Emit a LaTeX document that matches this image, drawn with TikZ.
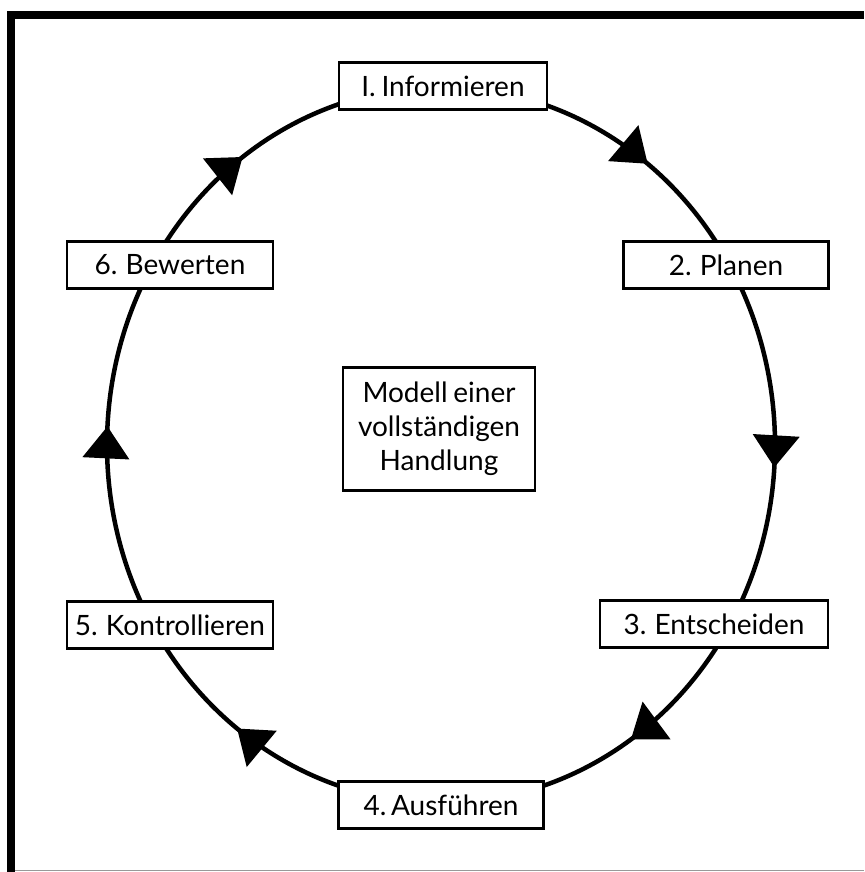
\documentclass[tikz,border=0pt]{standalone}
\usepackage{fontspec}
\setmainfont{Lato}[WordSpace=0.8]
\usetikzlibrary{arrows.meta,decorations.markings}

\begin{document}
\begin{tikzpicture}[x=1pt,y=1pt,
  stepbox/.style={draw=black,line width=2.4pt,fill=white,minimum height=47pt,
    inner sep=0pt,font=\fontsize{28}{34}\selectfont},
  loop/.style={line width=4.5pt},
  tipat/.style={decoration={markings,
      mark=at position #1 with {\arrow{Triangle[length=32pt,width=46pt]}}},
    postaction=decorate}
]
\useasboundingbox (0,0) rectangle (864,872);

% frame
\draw[line width=8pt] (11,0) -- (11,857) -- (864,857);
\draw[line width=1.5pt,black!40] (15,1.5) -- (864,1.5);

% points on the cycle
\coordinate (C) at (441,427);
\path (C) ++(90:334 and 358) coordinate (p1);
\path (C) ++(30:334 and 358) coordinate (p2);
\path (C) ++(-30:334 and 358) coordinate (p3);
\path (C) ++(-90:334 and 358) coordinate (p4);
\path (C) ++(-150:334 and 358) coordinate (p5);
\path (C) ++(150:334 and 358) coordinate (p6);

% cycle segments with direction arrows
\draw[loop,tipat=0.63] (p1) arc[start angle=90,end angle=30,x radius=334pt,y radius=358pt];
\draw[loop,tipat=0.56] (p2) arc[start angle=30,end angle=-30,x radius=334pt,y radius=358pt];
\draw[loop,tipat=0.43] (p3) arc[start angle=-30,end angle=-90,x radius=334pt,y radius=358pt];
\draw[loop,tipat=0.62] (p4) arc[start angle=-90,end angle=-150,x radius=334pt,y radius=358pt];
\draw[loop,tipat=0.55] (p5) arc[start angle=-150,end angle=-210,x radius=334pt,y radius=358pt];
\draw[loop,tipat=0.40] (p6) arc[start angle=150,end angle=90,x radius=334pt,y radius=358pt];

% steps
\node[stepbox,minimum width=208pt] (s1) at (443,786) {I. Informieren};
\node[stepbox,minimum width=205pt] (s2) at (726,607) {2. Planen};
\node[stepbox,minimum width=228pt] (s3) at (714,248) {3. Entscheiden};
\node[stepbox,minimum width=205pt] (s4) at (441,67) {4.\,Ausführen};
\node[stepbox,minimum width=206pt] (s5) at (170,247) {5. Kontrollieren};
\node[stepbox,minimum width=206pt] (s6) at (170,607) {6. Bewerten};

% centre label
\node[stepbox,minimum width=192pt,minimum height=123pt,align=center] (m) at (439,443)
  {Modell einer\\vollständigen\\Handlung};
\end{tikzpicture}
\end{document}
